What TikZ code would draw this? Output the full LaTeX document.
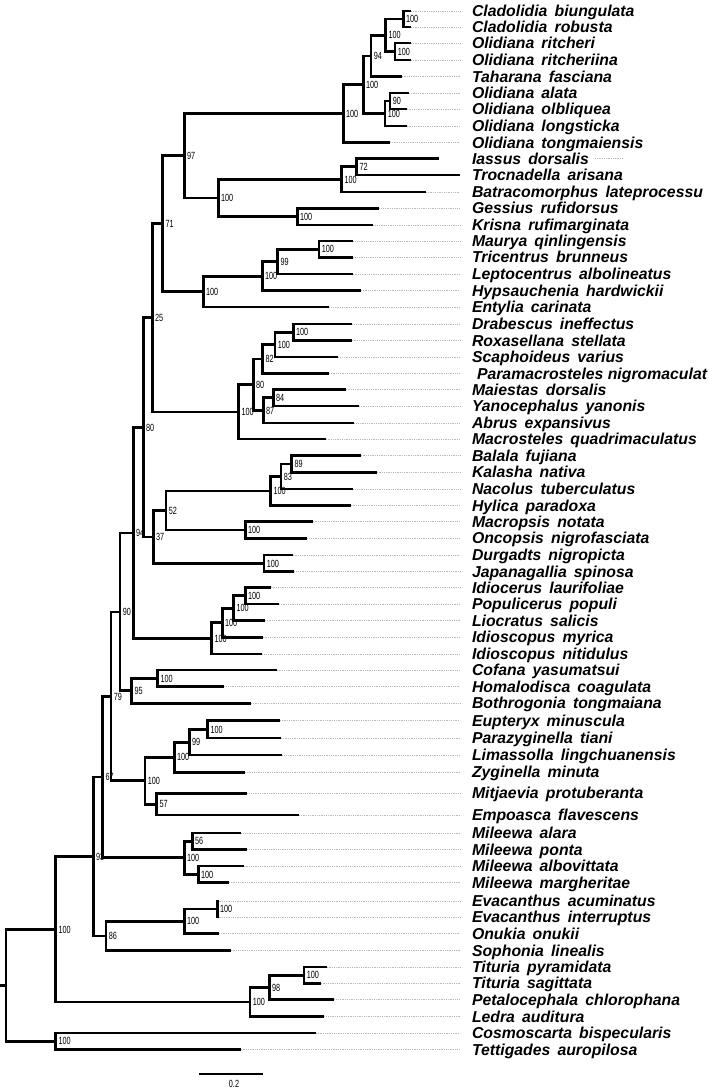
\documentclass[tikz,border=0pt]{standalone}
\usepackage{fontspec}
\setmainfont{Liberation Sans}
\newfontfamily\bsfont[FakeStretch=0.7]{Liberation Sans}
\newcommand\ws{\hspace{0.45em}}
\tikzset{
  br/.style={line width=2.7pt, line join=miter, line cap=butt, draw=black},
  dotl/.style={draw=gray!55, line width=0.5pt, dash pattern=on 0.9pt off 0.9pt},
  taxon/.style={anchor=base west, inner sep=0pt, outer sep=0pt, yshift=-5.5pt,
    font=\fontsize{15.8}{16}\selectfont\bfseries\itshape},
  bs/.style={anchor=base west, inner sep=0pt, outer sep=0pt, xshift=2.8pt, yshift=-3.7pt,
    font=\bsfont\fontsize{10.4}{11}\selectfont}
}
\newcommand\tax[4]{%
  \coordinate (#1) at (#2,#3);
  \coordinate (#1e) at (460,#3);
  \draw[dotl] (#1) -- (#1e);
  \node[taxon] (#1l) at (472,#3) {#4};}
\newcommand\inode[5]{%
  \coordinate (#1) at (#2,#3);
  \foreach \c in {#5} {\draw[br] (#1) |- (\c);}
  \node[bs] (#1b) at (#1) {#4};}
\begin{document}
\begin{tikzpicture}[x=1pt,y=-1pt]
\useasboundingbox (0,0) rectangle (709,1090);
% ---- leaves ----
\tax{t1}{411}{11}{Cladolidia\ws biungulata}
\tax{t2}{411}{27}{Cladolidia\ws robusta}
\tax{t3}{411}{43}{Olidiana\ws ritcheri}
\tax{t4}{411}{60}{Olidiana\ws ritcheriina}
\tax{t5}{401.7}{76.5}{Taharana\ws fasciana}
\tax{t6}{409}{93}{Olidiana\ws alata}
\tax{t7}{406.7}{109}{Olidiana\ws olbliquea}
\tax{t8}{406.7}{126}{Olidiana\ws longsticka}
\tax{t9}{390}{142.5}{Olidiana\ws tongmaiensis}
\coordinate (t10) at (439.3,158.5);
\node[taxon] (t10l) at (472,158.5) {Iassus\ws dorsalis};
\coordinate (t10a) at (595,158.5);
\coordinate (t10e) at (623,158.5);
\draw[dotl] (t10a) -- (t10e);
\coordinate (t11) at (460,175);
\node[taxon] (t11l) at (472,175) {Trocnadella\ws arisana};
\tax{t12}{426}{192}{Batracomorphus\ws lateprocessu}
\tax{t13}{379.3}{208.3}{Gessius\ws rufidorsus}
\tax{t14}{373.3}{225}{Krisna\ws rufimarginata}
\tax{t15}{353.3}{241}{Maurya\ws qinlingensis}
\tax{t16}{353.3}{257.3}{Tricentrus\ws brunneus}
\tax{t17}{352.7}{274}{Leptocentrus\ws albolineatus}
\tax{t18}{361}{290.7}{Hypsauchenia\ws hardwickii}
\tax{t19}{329.3}{307}{Entylia\ws carinata}
\tax{t20}{352.3}{324}{Drabescus\ws ineffectus}
\tax{t21}{351.7}{340.5}{Roxasellana\ws stellata}
\tax{t22}{338.3}{357}{Scaphoideus\ws varius}
\coordinate (t23) at (329,373.5);
\coordinate (t23e) at (460,373.5);
\draw[dotl] (t23) -- (t23e);
\node[taxon] (t23l) at (477,373.5) {Paramacrosteles nigromaculat};
\tax{t24}{345.7}{389.5}{Maiestas\ws dorsalis}
\tax{t25}{359}{406}{Yanocephalus\ws yanonis}
\tax{t26}{354.3}{423}{Abrus\ws expansivus}
\tax{t27}{325.7}{439}{Macrosteles\ws quadrimaculatus}
\tax{t28}{360.7}{455.7}{Balala\ws fujiana}
\tax{t29}{376.7}{472.3}{Kalasha\ws nativa}
\tax{t30}{353.3}{489}{Nacolus\ws tuberculatus}
\tax{t31}{350.7}{505.7}{Hylica\ws paradoxa}
\tax{t32}{312.7}{521.7}{Macropsis\ws notata}
\tax{t33}{307.3}{538.3}{Oncopsis\ws nigrofasciata}
\tax{t34}{292.7}{555}{Durgadts\ws nigropicta}
\tax{t35}{294.3}{571.7}{Japanagallia\ws spinosa}
\tax{t36}{270.7}{587.5}{Idiocerus\ws laurifoliae}
\tax{t37}{279}{604}{Populicerus\ws populi}
\tax{t38}{265}{620.7}{Liocratus\ws salicis}
\tax{t39}{262.7}{637.3}{Idioscopus\ws myrica}
\tax{t40}{262.3}{654}{Idioscopus\ws nitidulus}
\tax{t41}{276.7}{670}{Cofana\ws yasumatsui}
\tax{t42}{224.3}{686.7}{Homalodisca\ws coagulata}
\tax{t43}{251}{703.3}{Bothrogonia\ws tongmaiana}
\tax{t44}{280}{720.7}{Eupteryx\ws minuscula}
\tax{t45}{281}{738}{Parazyginella\ws tiani}
\tax{t46}{282.3}{755}{Limassolla\ws lingchuanensis}
\tax{t47}{245}{772.3}{Zyginella\ws minuta}
\tax{t48}{247.3}{793.3}{Mitjaevia\ws protuberanta}
\tax{t49}{299}{815}{Empoasca\ws flavescens}
\tax{t50}{241.3}{833}{Mileewa\ws alara}
\tax{t51}{247.3}{849.5}{Mileewa\ws ponta}
\tax{t52}{243.7}{866}{Mileewa\ws albovittata}
\tax{t53}{229}{882.7}{Mileewa\ws margheritae}
\tax{t54}{218.5}{901}{Evacanthus\ws acuminatus}
\tax{t55}{218.5}{917}{Evacanthus\ws interruptus}
\tax{t56}{219}{933.5}{Onukia\ws onukii}
\tax{t57}{230.7}{950.5}{Sophonia\ws linealis}
\tax{t58}{326.7}{967}{Tituria\ws pyramidata}
\tax{t59}{320.7}{983.3}{Tituria\ws sagittata}
\tax{t60}{334.3}{999.7}{Petalocephala\ws chlorophana}
\tax{t61}{324.3}{1016.7}{Ledra\ws auditura}
\tax{t62}{316}{1033}{Cosmoscarta\ws bispecularis}
\tax{t63}{240.7}{1049.5}{Tettigades\ws auropilosa}
% ---- internal nodes ----
\inode{nAa}{403.3}{19}{100}{t1,t2}
\inode{nAb}{395}{51.5}{100}{t3,t4}
\inode{nA}{385.7}{35.25}{100}{nAa,nAb}
\inode{nB}{371}{55.9}{94}{nA,t5}
\inode{nSix}{390}{101}{90}{t6,t7}
\inode{nC}{385}{113.5}{100}{nSix,t8}
\inode{nD}{363.3}{84.7}{100}{nB,nC}
\inode{nE}{343.3}{113.6}{100}{nD,t9}
\inode{nSeventytwo}{356.7}{166.75}{72}{t10,t11}
\inode{nIas}{341.7}{179.4}{100}{nSeventytwo,t12}
\inode{nGK}{297.3}{216.65}{100}{t13,t14}
\inode{nCic}{218.3}{198}{100}{nIas,nGK}
\inode{nNinetyseven}{184.3}{155.8}{97}{nE,nCic}
\inode{nMT}{319}{249.15}{100}{t15,t16}
\inode{nNinetynineA}{277.7}{261.6}{99}{nMT,t17}
\inode{nMH}{262.3}{276.15}{100}{nNinetynineA,t18}
\inode{nMem}{203.3}{291.6}{100}{nMH,t19}
\inode{nSeventyone}{162.7}{223.7}{71}{nNinetyseven,nMem}
\inode{nDR}{293.3}{332.25}{100}{t20,t21}
\inode{nDRS}{275}{344.6}{100}{nDR,t22}
\inode{nEightytwo}{262.7}{359.05}{82}{nDRS,t23}
\inode{nEightyfour}{273.3}{397.75}{84}{t24,t25}
\inode{nEightyseven}{263.3}{410.4}{87}{nEightyfour,t26}
\inode{nEightyB}{253.3}{384.7}{80}{nEightytwo,nEightyseven}
\inode{nDel}{238.7}{411.85}{100}{nEightyB,t27}
\inode{nTwentyfive}{152.3}{317.8}{25}{nSeventyone,nDel}
\inode{nEightynine}{291.7}{464}{89}{t28,t29}
\inode{nEightythree}{281}{476.5}{83}{nEightynine,t30}
\inode{nHyl}{270.7}{491.1}{100}{nEightythree,t31}
\inode{nMac}{245.3}{530}{100}{t32,t33}
\inode{nFiftytwo}{166}{510.55}{52}{nHyl,nMac}
\inode{nDJ}{264}{563.35}{100}{t34,t35}
\inode{nThirtyseven}{153.3}{536.95}{37}{nFiftytwo,nDJ}
\inode{nEighty}{143.3}{427.4}{80}{nTwentyfive,nThirtyseven}
\inode{nIP}{245.3}{595.75}{100}{t36,t37}
\inode{nIPL}{233.7}{608.2}{100}{nIP,t38}
\inode{nIPLM}{222.3}{622.75}{100}{nIPL,t39}
\inode{nIdi}{211.7}{638.4}{100}{nIPLM,t40}
\inode{nNinetyfour}{133.3}{532.9}{94}{nEighty,nIdi}
\inode{nCH}{157.7}{678.35}{100}{t41,t42}
\inode{nNinetyfive}{131.7}{690.8}{95}{nCH,t43}
\inode{nNinety}{120}{611.85}{90}{nNinetyfour,nNinetyfive}
\inode{nEP}{207.7}{729.35}{100}{t44,t45}
\inode{nNinetynineB}{189.3}{742.2}{99}{nEP,t46}
\inode{nZ}{174.3}{757.25}{100}{nNinetynineB,t47}
\inode{nFiftyseven}{156.7}{804.15}{57}{t48,t49}
\inode{nTyp}{145}{780.7}{100}{nZ,nFiftyseven}
\inode{nSeventynine}{111}{696.3}{79}{nNinety,nTyp}
\inode{nFiftysix}{192.3}{841.25}{56}{t50,t51}
\inode{nMA}{198.3}{874.35}{100}{t52,t53}
\inode{nMil}{184.3}{857.8}{100}{nFiftysix,nMA}
\inode{nSixtyseven}{102.7}{777.05}{67}{nSeventynine,nMil}
\inode{nEv}{217.3}{909}{100}{t54,t55}
\inode{nEvO}{184.3}{921.25}{100}{nEv,t56}
\inode{nEightysix}{106}{935.9}{86}{nEvO,t57}
\inode{nNinetythree}{93.3}{856.5}{93}{nSixtyseven,nEightysix}
\inode{nTT}{304}{975.15}{100}{t58,t59}
\inode{nNinetyeight}{269.3}{987.4}{98}{nTT,t60}
\inode{nLed}{250}{1002.05}{100}{nNinetyeight,t61}
\inode{nBig}{55.7}{929.3}{100}{nNinetythree,nLed}
\inode{nCC}{55.7}{1041.25}{100}{t62,t63}
% ---- root ----
\coordinate (root) at (6,985.3);
\coordinate (stub) at (0,985.3);
\draw[br] (stub) -- (root);
\draw[br] (root) |- (nBig);
\draw[br] (root) |- (nCC);
% ---- scale bar ----
\coordinate (sbA) at (199,1074);
\coordinate (sbB) at (263.3,1074);
\draw[line width=1.7pt] (sbA) -- (sbB);
\node[anchor=base, inner sep=0pt, font=\bsfont\fontsize{10.4}{11}\selectfont] (sbl) at (234,1087.3) {0.2};
\end{tikzpicture}
\end{document}
